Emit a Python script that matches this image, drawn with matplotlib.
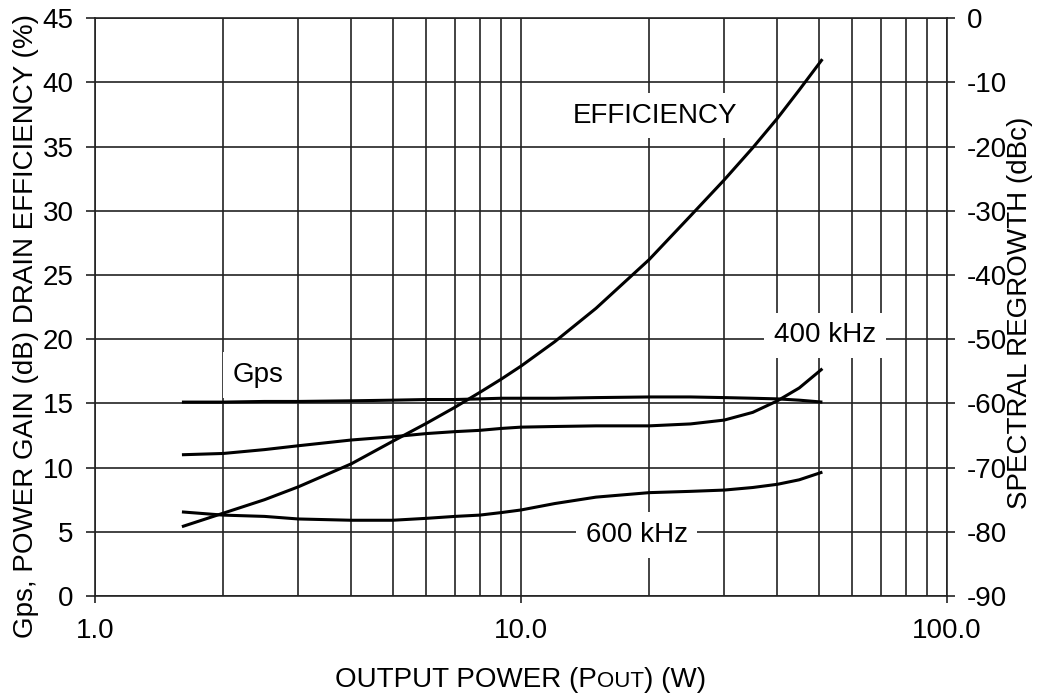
import matplotlib
matplotlib.use("Agg")
import matplotlib.pyplot as plt
from matplotlib.ticker import FixedLocator, NullFormatter
from matplotlib.offsetbox import TextArea, HPacker, AnchoredOffsetbox

plt.rcParams['font.family'] = ['Liberation Sans', 'DejaVu Sans']
plt.rcParams['font.size'] = 20
plt.rcParams['axes.unicode_minus'] = False

# output power (W) sample points
pout = [1.6, 2, 2.5, 3, 4, 5, 6, 7, 8, 9, 10, 12, 15, 20, 25, 30, 35, 40, 45, 51]
efficiency = [5.4, 6.45, 7.5, 8.5, 10.3, 12.05, 13.45, 14.7, 15.85, 16.9, 17.9, 19.8,
              22.4, 26.2, 29.6, 32.4, 34.9, 37.2, 39.4, 41.8]
gps = [15.1, 15.1, 15.15, 15.15, 15.2, 15.25, 15.3, 15.3, 15.35, 15.4, 15.4, 15.4,
       15.45, 15.5, 15.5, 15.45, 15.4, 15.35, 15.25, 15.1]
# spectral regrowth drawn against the left scale (dBc = 2*y - 90)
regrowth_400 = [11.0, 11.1, 11.4, 11.7, 12.15, 12.4, 12.65, 12.8, 12.9, 13.05, 13.15, 13.2,
                13.25, 13.25, 13.4, 13.7, 14.3, 15.2, 16.2, 17.7]
regrowth_600 = [6.55, 6.3, 6.2, 6.0, 5.9, 5.9, 6.05, 6.2, 6.3, 6.5, 6.7, 7.2,
                7.7, 8.05, 8.15, 8.25, 8.45, 8.7, 9.05, 9.65]

labels = [("EFFICIENCY", 20.6, 37.4), ("Gps", 2.41, 17.2),
          ("400 kHz", 51.7, 20.3), ("600 kHz", 18.7, 4.75)]

fig = plt.figure(figsize=(10.38, 6.95), dpi=100)
ax = fig.add_axes([0.0915, 0.1424, 0.8208, 0.8316])
ax.set_xscale('log')
ax.set_xlim(1, 100)
ax.set_ylim(0, 45)
ax.set_yticks(range(0, 46, 5))
ax.xaxis.set_major_locator(FixedLocator([1, 10, 100]))
ax.set_xticklabels(["1.0", "10.0", "100.0"])
ax.xaxis.set_minor_locator(FixedLocator([m * d for d in (1, 10) for m in range(2, 10)]))
ax.xaxis.set_minor_formatter(NullFormatter())
ax.grid(True, which='both', color='#222222', lw=1.2)
ax.tick_params(axis='y', which='major', length=6.5, width=1.2, color='#222222', pad=9)
ax.tick_params(axis='x', which='major', length=5, width=1.2, color='#222222', pad=11)
ax.tick_params(which='minor', length=0)
for s in ax.spines.values():
    s.set_linewidth(1.2)
    s.set_color('#222222')

for ys in (efficiency, gps, regrowth_400, regrowth_600):
    ax.plot(pout, ys, color='black', lw=2.2, solid_capstyle='butt', zorder=3)

for txt, x, y in labels:
    ax.text(x, y, txt, ha='center', va='center', zorder=4,
            bbox=dict(facecolor='white', edgecolor='none', pad=7))

ax.set_ylabel("Gps, POWER GAIN (dB) DRAIN EFFICIENCY (%)")
ax.yaxis.set_label_coords(-0.066, 0.467)

ax2 = ax.twinx()
ax2.set_ylim(-90, 0)
ax2.set_yticks(range(-90, 1, 10))
ax2.tick_params(length=6, width=1.2, color='#222222', pad=8)
ax2.set_ylabel("SPECTRAL REGROWTH (dBc)")
ax2.yaxis.set_label_coords(1.071, 0.49)
for s in ax2.spines.values():
    s.set_visible(False)

# x label with small-caps OUT
parts = [TextArea("OUTPUT POWER (P", textprops=dict(size=20)),
         TextArea("OUT", textprops=dict(size=16)),
         TextArea(") (W)", textprops=dict(size=20))]
box = HPacker(children=parts, align='baseline', pad=0, sep=0)
anch = AnchoredOffsetbox(loc='center', child=box, frameon=False,
                         bbox_to_anchor=(0.5, -0.1453), bbox_transform=ax.transAxes,
                         borderpad=0, pad=0)
ax.add_artist(anch)

fig.savefig("out.png", dpi=100)
